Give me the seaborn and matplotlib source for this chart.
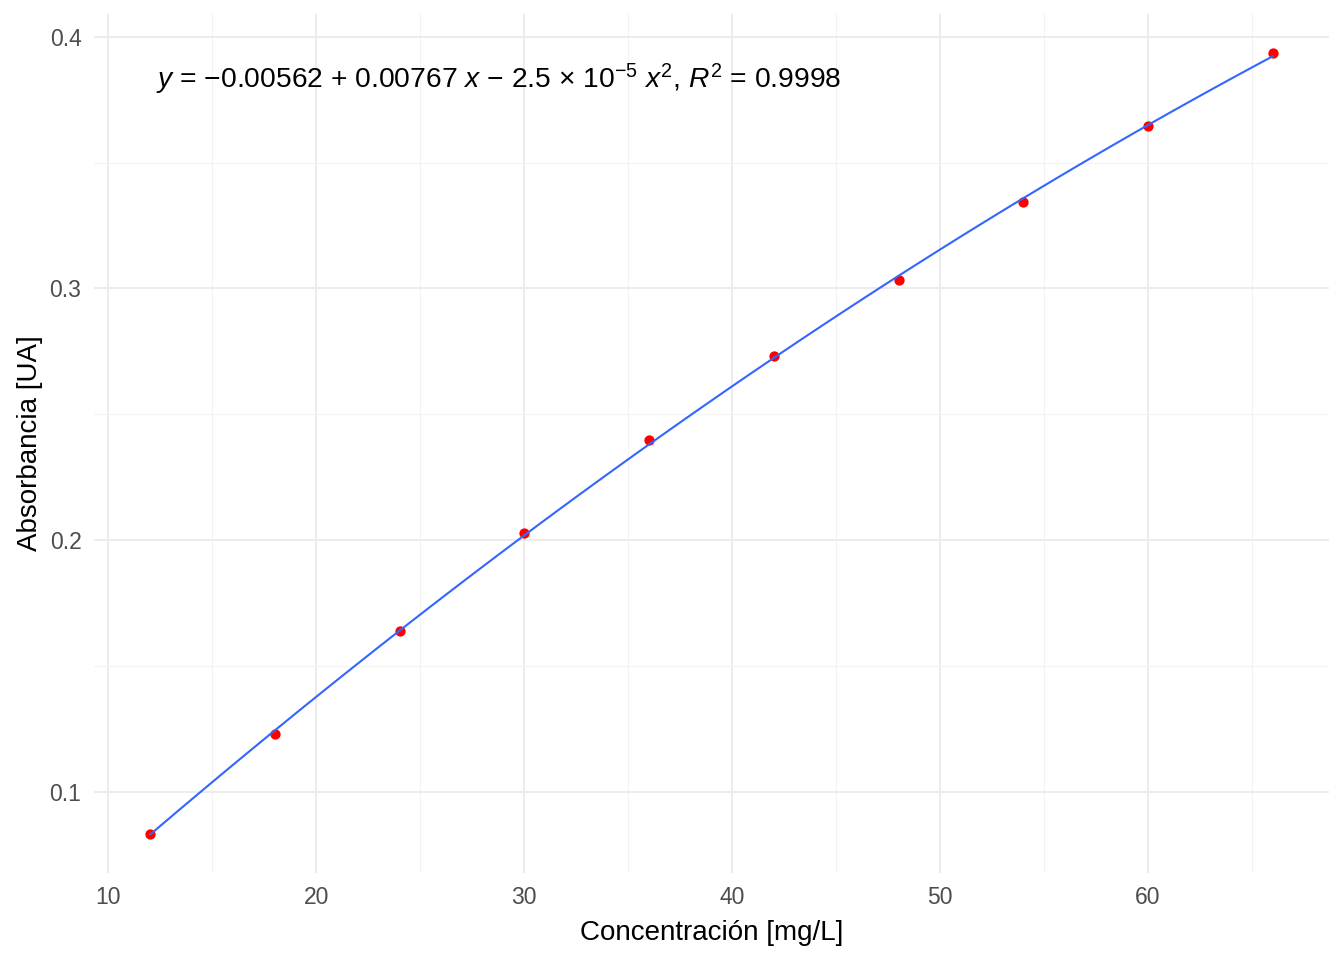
import numpy as np
import pandas as pd
import matplotlib
matplotlib.use("Agg")
import matplotlib.pyplot as plt
import seaborn as sns
from matplotlib.ticker import MultipleLocator

# Curva de calibración
concentracion = [12, 18, 24, 30, 36, 42, 48, 54, 60, 66]
absorbancia = [0.0833, 0.1231, 0.1641, 0.2028, 0.2398, 0.2733, 0.3032, 0.3343, 0.3645, 0.3936]
ecuacion = r"$\it{y}$ = $-$0.00562 + 0.00767 $\it{x}$ $-$ 2.5 $\times$ 10$^{-5}$ $\it{x}^2$, $\it{R}^2$ = 0.9998"

df = pd.DataFrame({"conc": concentracion, "abs": absorbancia})

sns.set_theme(style="whitegrid")
plt.rcParams["font.family"] = ["Liberation Sans", "DejaVu Sans"]
plt.rcParams["mathtext.fontset"] = "custom"
plt.rcParams["mathtext.rm"] = "Liberation Sans"
plt.rcParams["mathtext.it"] = "Liberation Sans:italic"

fig = plt.figure(figsize=(13.44, 9.6), dpi=100)
ax = fig.add_axes([0.0699, 0.0906, 0.9189, 0.8948])

sns.regplot(x="conc", y="abs", data=df, order=2, ci=None, ax=ax,
            scatter_kws={"color": "#FF0000", "s": 55, "alpha": 1, "linewidths": 0, "zorder": 2},
            line_kws={"color": "#3366FF", "lw": 1.5, "zorder": 3})

ax.set_xlim(9.3, 68.7)
ax.set_ylim(0.0678, 0.409)
ax.xaxis.set_major_locator(MultipleLocator(10))
ax.xaxis.set_minor_locator(MultipleLocator(5))
ax.yaxis.set_major_locator(MultipleLocator(0.1))
ax.yaxis.set_minor_locator(MultipleLocator(0.05))
ax.grid(which="major", color="#EBEBEB", lw=1.3)
ax.grid(which="minor", color="#F3F3F3", lw=0.8)
ax.set_facecolor("white")
for s in ax.spines.values():
    s.set_visible(False)
ax.tick_params(which="both", length=0, labelsize=16.5, labelcolor="#4D4D4D", pad=9)

ax.text(12.3, 0.383, ecuacion, ha="left", va="center", fontsize=20.3, color="black")

ax.set_xlabel("Concentración [mg/L]", fontsize=20, color="black", labelpad=8)
ax.set_ylabel("Absorbancia [UA]", fontsize=20, color="black", labelpad=5)

fig.savefig("out.png", dpi=100, facecolor="white")
